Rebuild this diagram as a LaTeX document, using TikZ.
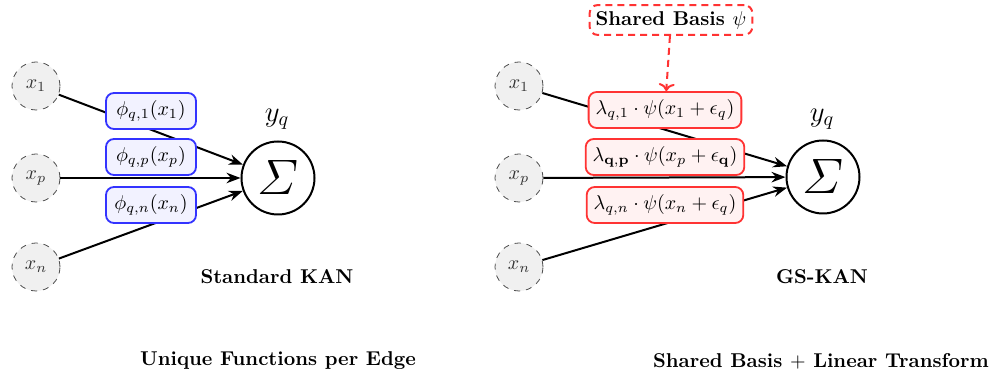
\documentclass[tikz,border=0pt]{standalone}
\usetikzlibrary{positioning}
\usetikzlibrary{arrows.meta}
\usepackage{amsmath}
\usepackage{amssymb}

\tikzset{
  input/.style={circle, draw=black!70, dashed, fill=black!6, text=black!80,
    minimum size=24pt, inner sep=0pt},
  sumnode/.style={circle, draw, line width=1pt, minimum size=36.5pt, inner sep=0pt,
    font=\fontsize{27}{32}\selectfont},
  phibox/.style={draw=blue!80, fill=blue!5, line width=0.9pt, rounded corners=4pt,
    minimum width=45pt, minimum height=18pt, inner sep=3pt},
  lambox/.style={draw=red!80, fill=red!5, line width=0.9pt, rounded corners=4pt,
    minimum height=18pt, inner xsep=3.5pt, inner ysep=3pt},
  basis/.style={draw=red!80, dash pattern=on 3.5pt off 2.5pt, fill=white, line width=1pt,
    rounded corners=4pt, inner sep=3pt, font=\bfseries},
  edgeline/.style={-{Stealth[length=7pt]}, line width=1pt},
}

\begin{document}
\begin{tikzpicture}[x=0.5pt, y=-0.5pt]
        \useasboundingbox (0,0) rectangle (993,373);

        % standard KAN
        \node[input]   (a1) at (36,86)  {$x_1$};
        \node[input]   (ap) at (36,178) {$x_p$};
        \node[input]   (an) at (36,267) {$x_n$};
        \node[sumnode] (asum) at (278,178) {$\varSigma$};
        \node[font=\Large] (ay) at (277,119) {$y_q$};

        \draw[edgeline] (a1) -- (asum);
        \draw[edgeline] (ap) -- (asum);
        \draw[edgeline] (an) -- (asum);

        \node[phibox] (f1) at (151,111) {$\phi_{q,1}(x_1)$};
        \node[phibox] (fp) at (151,157) {$\phi_{q,p}(x_p)$};
        \node[phibox] (fn) at (151,205) {$\phi_{q,n}(x_n)$};

        \node[font=\bfseries] (atitle) at (277,277) {Standard KAN};
        \node[font=\bfseries] (anote)  at (278,361) {Unique Functions per Edge};

        % GS-KAN
        \node[input]   (b1) at (519,86)  {$x_1$};
        \node[input]   (bp) at (519,178) {$x_p$};
        \node[input]   (bn) at (519,267) {$x_n$};
        \node[sumnode] (bsum) at (823,177) {$\varSigma$};
        \node[font=\Large] (by) at (822,119) {$y_q$};

        \draw[edgeline] (b1) -- (bsum);
        \draw[edgeline] (bp) -- (bsum);
        \draw[edgeline] (bn) -- (bsum);

        \node[lambox] (l1) at (665,110) {$\lambda_{q,1} \cdot \psi(x_1 + \epsilon_q)$};
        \node[lambox] (lp) at (665,157) {$\lambda_{\mathbf{q,p}} \cdot \psi(x_p + \epsilon_{\mathbf{q}})$};
        \node[lambox] (ln) at (665,205) {$\lambda_{q,n} \cdot \psi(x_n + \epsilon_q)$};

        \node[basis] (sb) at (671,20) {Shared Basis $\psi$};
        \draw[red!80, dash pattern=on 3.5pt off 2.5pt, line width=1pt, ->] (sb) -- (l1);

        \node[font=\bfseries] (btitle) at (822,277) {GS-KAN};
        \node[font=\bfseries] (bnote)  at (821,361) {Shared Basis $+$ Linear Transform};
      \end{tikzpicture}
\end{document}
